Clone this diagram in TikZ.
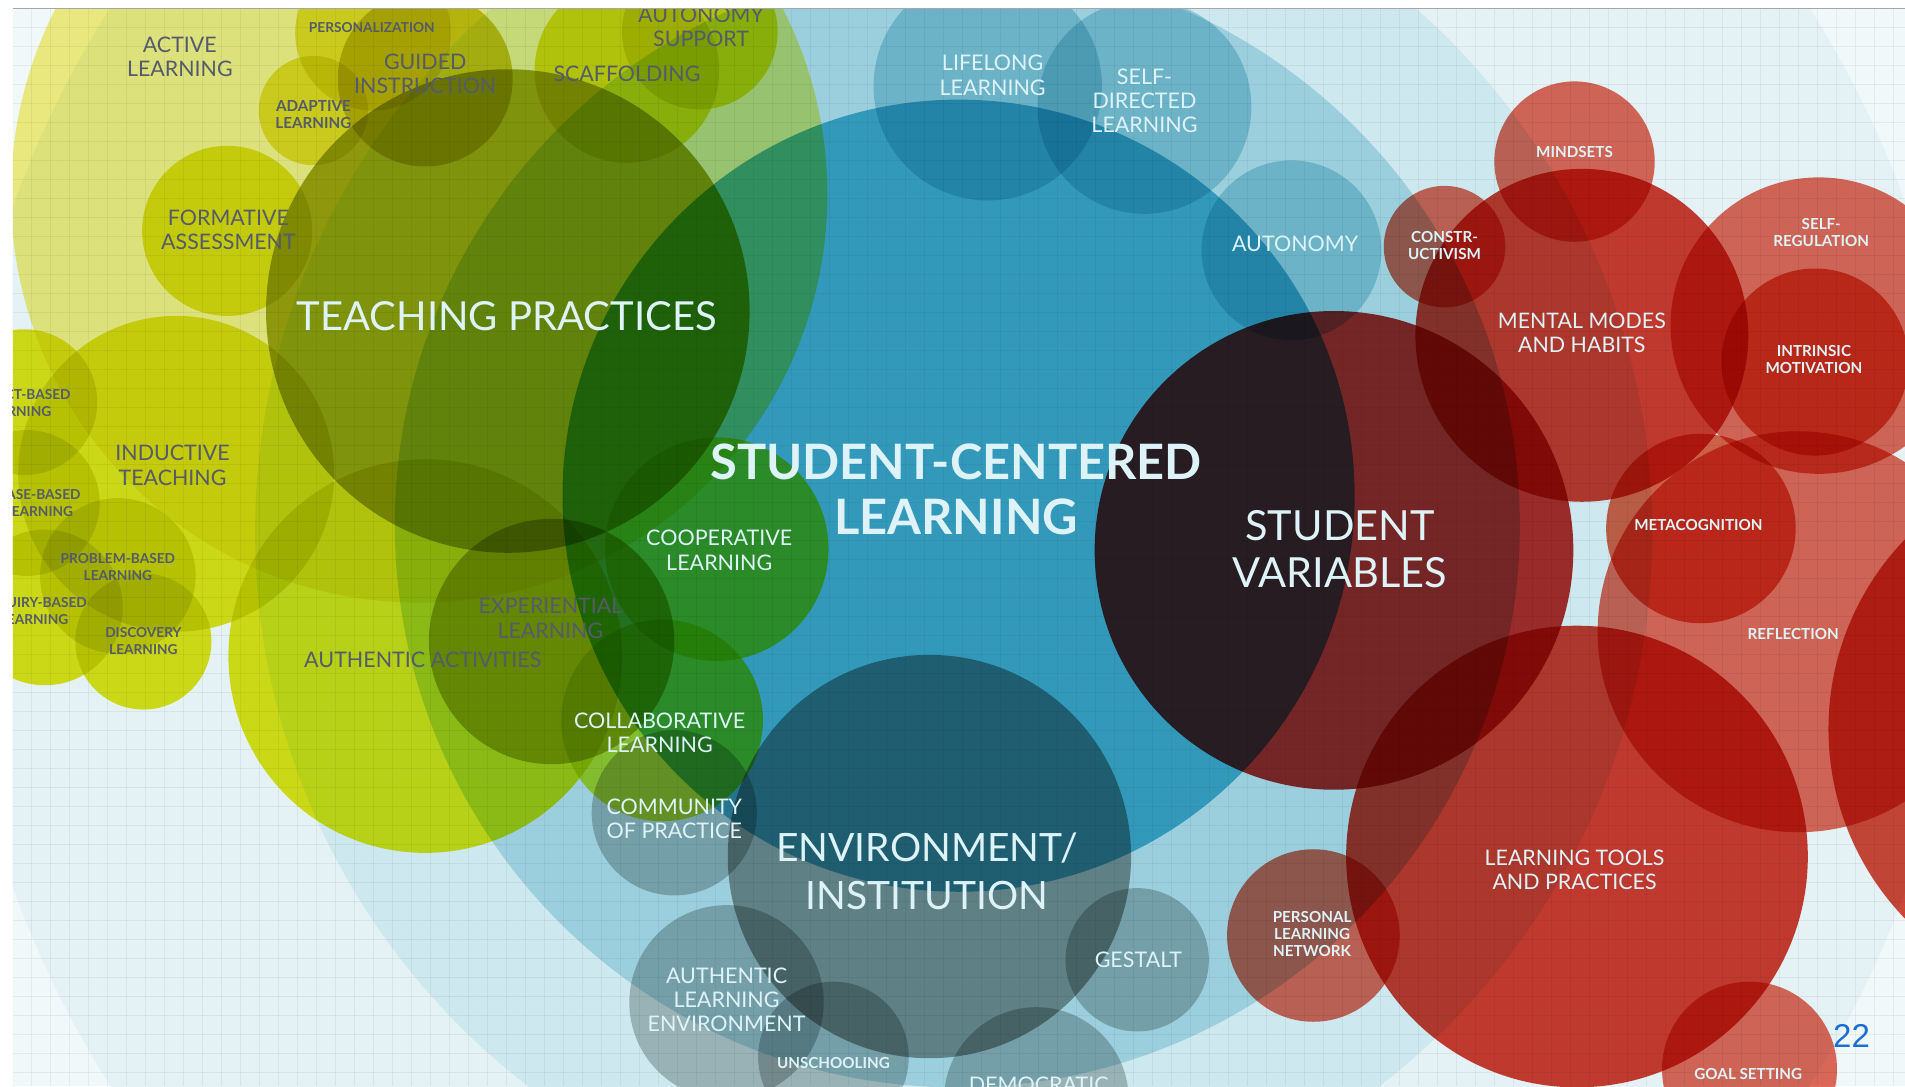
\documentclass[tikz,border=0pt]{standalone}
\usepackage{fontspec}
\setmainfont{Lato}
\newfontfamily\arialf{Liberation Sans}
\definecolor{bgO}{HTML}{F0F8FA}
\definecolor{bgA}{HTML}{E4F1F5}
\definecolor{bgB}{HTML}{CDE8EE}
\definecolor{bgC}{HTML}{9CCFDD}
\definecolor{bgS}{HTML}{3399BB}
\definecolor{cAL}{HTML}{F7EF82}
\definecolor{cY}{HTML}{E4E51A}
\definecolor{cYl}{HTML}{EAE63C}
\definecolor{cGu}{HTML}{D2CC20}
\definecolor{cTP}{HTML}{A6AD1A}
\definecolor{cEx}{HTML}{B8BC30}
\definecolor{cGr}{HTML}{D8E838}
\definecolor{cGy}{HTML}{BFC4C4}
\definecolor{cEn}{HTML}{9C9E99}
\definecolor{cBl}{HTML}{B3DDE6}
\definecolor{cSV}{HTML}{BF302E}
\definecolor{cSa}{HTML}{E66A59}
\definecolor{cRd}{HTML}{D63D31}
\definecolor{cRm}{HTML}{E5664C}
\definecolor{cFR}{HTML}{D84A3A}
\definecolor{labL}{HTML}{DDF3F7}
\definecolor{labD}{HTML}{555B68}
\definecolor{pgnum}{HTML}{1A6FD6}
\begin{document}
\begin{tikzpicture}[x=1.215pt,y=-1.215pt,
  lab/.style={inner sep=0pt, align=center, text=labL},
  labd/.style={lab, text=labD},
  s9/.style={font=\bfseries\fontsize{13.7}{17}\selectfont},
  s10/.style={font=\bfseries\fontsize{15.2}{17}\selectfont},
  s13/.style={font=\fontsize{21.5}{24.3}\selectfont},
  s14/.style={font=\fontsize{21.4}{24.3}\selectfont},
  s24/.style={font=\fontsize{39}{47.4}\selectfont},
  s27/.style={font=\fontsize{41.5}{47.4}\selectfont},
  s30/.style={font=\bfseries\fontsize{48.8}{54.7}\selectfont}]
\useasboundingbox (0,0) rectangle (1568,894);
\fill[white] (0,0) rectangle (1568,894);
\begin{scope}
\clip (10.5,7) rectangle (1568,894);
\fill[bgO] (10.5,7) rectangle (1568,894);
\fill[bgA] (790,450) circle (828);
\fill[bgB] (785,438) circle (575);
\fill[bgC] (788,432) circle (463);
\fill[bgS] (789,408) circle (326);
\begin{scope}[blend mode=multiply]
% yellow group
\fill[cAL] (345,160) circle (336);
\fill[cYl] (307,27) circle (64);
\fill[cYl] (258,91) circle (45);
\fill[cGu] (350,65) circle (72);
\fill[cY] (187,190) circle (70);
\fill[cY] (145,390) circle (130);
\fill[cY] (20,331) circle (60);
\fill[cY] (22,414) circle (60);
\fill[cY] (97,474) circle (64);
\fill[cY] (37,500) circle (64);
\fill[cY] (118,528) circle (56);
\fill[cY] (350,540) circle (162);
\fill[cY] (516,58) circle (76);
\fill[cY] (576,26) circle (64);
\fill[cTP] (418,256) circle (199);
\fill[cEx] (454,528) circle (101);
\fill[cGr] (590,452) circle (92);
\fill[cGr] (545,593) circle (83);
% grey group
\fill[cGy] (555,669) circle (68);
\fill[cEn] (765,705) circle (166);
\fill[cGy] (598,825) circle (80);
\fill[cGy] (686,870) circle (62);
\fill[cGy] (853,905) circle (76);
\fill[cGy] (936,790) circle (59);
% blue group
\fill[cBl] (813,71) circle (94);
\fill[cBl] (942,88) circle (88);
\fill[cBl] (1063,206) circle (74);
% red group
\fill[cSV] (1098,453) circle (197);
\fill[cSa] (1296,133) circle (66);
\fill[cSa] (1189,203) circle (50);
\fill[cRd] (1302,276) circle (137);
\fill[cSa] (1497,268) circle (122);
\fill[cRm] (1494,298) circle (77);
\fill[cRm] (1400,435) circle (78);
\fill[cSa] (1480,520) circle (165);
\fill[cFR] (1730,600) circle (225);
\fill[cRd] (1298,705) circle (190);
\fill[cSa] (1081,770) circle (71);
\fill[cSa] (1440,880) circle (72);
\end{scope}
% grid
\begin{scope}[black, opacity=0.05, line width=1pt]
\foreach \i in {0,...,99} \draw (10.5+\i*15.64,7) -- (10.5+\i*15.64,894);
\foreach \j in {0,...,56} \draw (10.5,7+\j*15.64) -- (1568,7+\j*15.64);
\end{scope}
% labels
\node[labd,s14] (active) at (148,47) {ACTIVE\\LEARNING};
\node[labd,s9] (personal) at (306,23) {PERSONALIZATION};
\node[labd,s14] (guided) at (350,61) {GUIDED\\INSTRUCTION};
\node[labd,s10] (adaptive) at (258,94) {ADAPTIVE\\LEARNING};
\node[labd,s14] (autsup) at (577,22) {AUTONOMY\\SUPPORT};
\node[labd,s14] (scaff) at (516,61) {SCAFFOLDING};
\node[labd,s14] (formative) at (188,189) {FORMATIVE\\ASSESSMENT};
\node[lab,font=\fontsize{40}{48}\selectfont] (tp) at (417,260) {TEACHING PRACTICES};
\node[labd,s9] (project) at (14,332) {PROJECT-BASED\\LEARNING};
\node[labd,s9] (case) at (32,414) {CASE-BASED\\LEARNING};
\node[labd,s9] (inquiry) at (28,503) {INQUIRY-BASED\\LEARNING};
\node[labd,s14] (inductive) at (142,383) {INDUCTIVE\\TEACHING};
\node[labd,s9] (problem) at (97,467) {PROBLEM-BASED\\LEARNING};
\node[labd,s9] (discovery) at (118,528) {DISCOVERY\\LEARNING};
\node[labd,s13] (authact) at (348,543) {AUTHENTIC ACTIVITIES};
\node[labd,s14] (exper) at (453,509) {EXPERIENTIAL\\LEARNING};
\node[lab,s13] (coop) at (592,453) {COOPERATIVE\\LEARNING};
\node[lab,s30] (scl) at (787,403) {STUDENT-CENTERED\\LEARNING};
\node[lab,s13] (collab) at (543,603) {COLLABORATIVE\\LEARNING};
\node[lab,s13] (commun) at (555,674) {COMMUNITY\\OF PRACTICE};
\node[lab,s24] (env) at (763,717) {ENVIRONMENT/\\INSTITUTION};
\node[lab,s13] (authle) at (598,823) {AUTHENTIC\\LEARNING\\ENVIRONMENT};
\node[lab,s10] (unsch) at (686,875) {UNSCHOOLING};
\node[lab,s13] (democ) at (855,893) {DEMOCRATIC};
\node[lab,s13] (gestalt) at (937,790) {GESTALT};
\node[lab,s13] (lifelong) at (817,62) {LIFELONG\\LEARNING};
\node[lab,s13] (selfdir) at (942,83) {SELF-\\DIRECTED\\LEARNING};
\node[lab,s13] (autonomy) at (1066,201) {AUTONOMY};
\node[lab,s10] (constr) at (1189,202) {CONSTR-\\UCTIVISM};
\node[lab,s10] (mindsets) at (1296,125) {MINDSETS};
\node[lab,s14] (mental) at (1302,274) {MENTAL MODES\\AND HABITS};
\node[lab,s10] (selfreg) at (1499,191) {SELF-\\REGULATION};
\node[lab,s10] (intrin) at (1493,296) {INTRINSIC\\MOTIVATION};
\node[lab,s27] (sv) at (1103,452) {STUDENT\\VARIABLES};
\node[lab,s10] (metacog) at (1398,432) {METACOGNITION};
\node[lab,s10] (reflect) at (1476,522) {REFLECTION};
\node[lab,s14] (ltp) at (1296,716) {LEARNING TOOLS\\AND PRACTICES};
\node[lab,s10] (pln) at (1080,769) {PERSONAL\\LEARNING\\NETWORK};
\node[lab,s10] (goal) at (1439,884) {GOAL SETTING};
\end{scope}
\draw[color=black!35, line width=1.5pt] (10.5,7) -- (1568,7);
\node[inner sep=0pt, text=pgnum, font=\arialf\fontsize{33}{33}\selectfont] (page) at (1524,853) {22};
\end{tikzpicture}
\end{document}
